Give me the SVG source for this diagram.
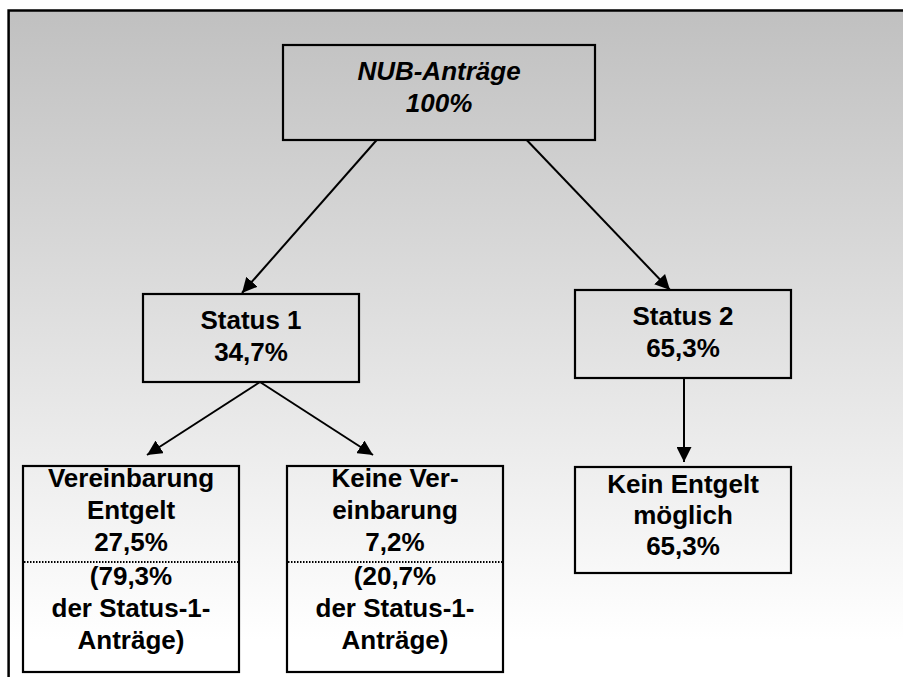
<svg xmlns="http://www.w3.org/2000/svg" width="903" height="677" viewBox="0 0 903 677">
<defs>
<linearGradient id="bg" gradientUnits="userSpaceOnUse" x1="0" y1="10" x2="0" y2="640">
<stop offset="0" stop-color="#c0c0c0"/>
<stop offset="1" stop-color="#ffffff"/>
</linearGradient>
<marker id="arr" viewBox="0 0 10 10" refX="10" refY="5" markerWidth="7.5" markerHeight="7.5" markerUnits="strokeWidth" orient="auto">
<path d="M0,0 L10,5 L0,10 Z" fill="#000"/>
</marker>
</defs>
<style>
.box{fill:none;stroke:#000;stroke-width:2.2}
.t{font-family:"Liberation Sans",Arial,sans-serif;font-weight:bold;font-size:26px;text-anchor:middle;fill:#000}
.it{font-style:italic}
.con{fill:none;stroke:#000;stroke-width:2;marker-end:url(#arr)}
.dot{stroke:#000;stroke-width:2;stroke-dasharray:1.5 1.5}
</style>
<rect x="0" y="0" width="903" height="677" fill="#fff"/>
<rect x="8.6" y="10.5" width="900" height="680" fill="url(#bg)" stroke="#000" stroke-width="2.5"/>
<g id="connectors">
<line class="con" x1="376.7" y1="140" x2="242" y2="293"/>
<line class="con" x1="526.7" y1="140" x2="670" y2="290"/>
<line class="con" x1="260" y1="382" x2="147" y2="455"/>
<line class="con" x1="260" y1="382" x2="373" y2="455"/>
<line class="con" x1="684" y1="378" x2="684" y2="462"/>
</g>
<g id="nub">
<rect class="box" x="283" y="45" width="312" height="95"/>
<text class="t it" x="439" y="80">NUB-Anträge</text>
<text class="t it" x="439" y="112">100%</text>
</g>
<g id="status1">
<rect class="box" x="143" y="294" width="216" height="88"/>
<text class="t" x="251" y="329">Status 1</text>
<text class="t" x="251" y="361">34,7%</text>
</g>
<g id="status2">
<rect class="box" x="575" y="290" width="216" height="88"/>
<text class="t" x="683" y="325">Status 2</text>
<text class="t" x="683" y="357">65,3%</text>
</g>
<g id="vereinbarung">
<rect class="box" x="23" y="466" width="216" height="206"/>
<text class="t" x="131" y="487">Vereinbarung</text>
<text class="t" x="131" y="519">Entgelt</text>
<text class="t" x="131" y="551">27,5%</text>
<line class="dot" x1="24" y1="562" x2="238" y2="562"/>
<text class="t" x="131" y="585">(79,3%</text>
<text class="t" x="131" y="617">der Status-1-</text>
<text class="t" x="131" y="649">Anträge)</text>
</g>
<g id="keine">
<rect class="box" x="287" y="466" width="216" height="206"/>
<text class="t" x="395" y="487">Keine Ver-</text>
<text class="t" x="395" y="519">einbarung</text>
<text class="t" x="395" y="551">7,2%</text>
<line class="dot" x1="288" y1="562" x2="502" y2="562"/>
<text class="t" x="395" y="585">(20,7%</text>
<text class="t" x="395" y="617">der Status-1-</text>
<text class="t" x="395" y="649">Anträge)</text>
</g>
<g id="keinentgelt">
<rect class="box" x="575" y="467" width="216" height="106"/>
<text class="t" x="683" y="493">Kein Entgelt</text>
<text class="t" x="683" y="524">möglich</text>
<text class="t" x="683" y="555">65,3%</text>
</g>
</svg>
